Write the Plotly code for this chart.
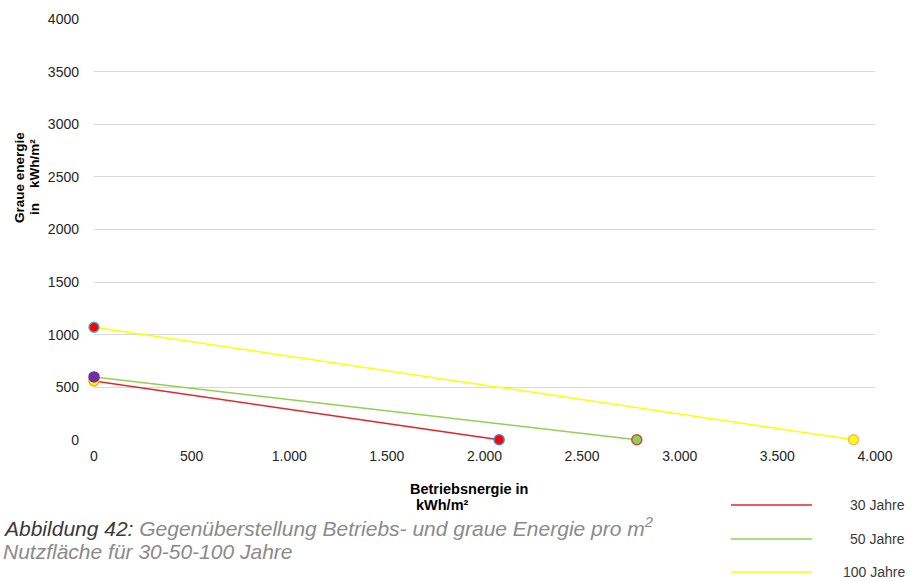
import plotly.graph_objects as go

# Lifetime scenarios
years = ["30 Jahre", "50 Jahre", "100 Jahre"]
# Operating energy (kWh/m²) at which grey energy reaches zero
betriebsenergie = [2075, 2780, 3890]
# Grey energy (kWh/m²) at zero operating energy
graue_energie = [560, 598, 1070]

x_ticks = [0, 500, 1000, 1500, 2000, 2500, 3000, 3500, 4000]
y_ticks = [0, 500, 1000, 1500, 2000, 2500, 3000, 3500, 4000]

line_colors = ["#e3262d", "#92d050", "#ffff00"]
start_fill = ["#ffff00", "#7030a0", "#ff0000"]
start_edge = ["#f5a623", "#7030a0", "#4bacc6"]
end_fill = ["#ff0000", "#92d050", "#ffff00"]
end_edge = ["#4f81bd", "#c0504d", "#f5b08a"]

FONT = "Liberation Sans, Arial, Helvetica, sans-serif"

fig = go.Figure()

for i, name in enumerate(years):
    fig.add_trace(go.Scatter(
        x=[0, betriebsenergie[i]], y=[graue_energie[i], 0],
        mode="lines", name=name,
        line=dict(color=line_colors[i], width=1.5),
        showlegend=False, hoverinfo="skip", cliponaxis=False,
    ))

for i in range(len(years)):
    fig.add_trace(go.Scatter(
        x=[0], y=[graue_energie[i]], mode="markers", showlegend=False,
        cliponaxis=False,
        marker=dict(size=10, color=start_fill[i],
                    line=dict(color=start_edge[i], width=1.5)),
    ))
    fig.add_trace(go.Scatter(
        x=[betriebsenergie[i]], y=[0], mode="markers", showlegend=False,
        cliponaxis=False,
        marker=dict(size=10, color=end_fill[i],
                    line=dict(color=end_edge[i], width=1.5)),
    ))

W, H = 922, 581
L, R, T, B = 94, 47, 19, 141
PW, PH = W - L - R, H - T - B

fig.update_layout(
    width=W, height=H,
    margin=dict(l=L, r=R, t=T, b=B),
    paper_bgcolor="white", plot_bgcolor="white",
    font=dict(family=FONT, size=14, color="#262626"),
    separators=",.",
    showlegend=False,
    xaxis=dict(
        range=[0, 4000], tickvals=x_ticks, tickformat=",d",
        separatethousands=True, showgrid=False, zeroline=False,
        showline=False, ticks="", ticklabelstandoff=6,
        tickfont=dict(size=14, color="#262626"),
    ),
    yaxis=dict(
        range=[-2, 4002], tickvals=y_ticks, tickformat="d",
        showgrid=True, gridcolor="#d9d9d9", gridwidth=1,
        zeroline=False, showline=False, ticks="", ticklabelstandoff=14,
        tickfont=dict(size=14, color="#262626"),
    ),
)

def px(x):
    return (x - L) / PW

def py(y):
    return (H - B - y) / PH

def text_at(text, x, y, size, color="#000000", xanchor="left", angle=0):
    return dict(
        text=text, x=px(x), y=py(y), xref="paper", yref="paper",
        textangle=angle, showarrow=False, align="left",
        font=dict(size=size, color=color, family=FONT),
        xanchor=xanchor, yanchor="middle",
    )

ann = []
# Y axis title (two rotated lines)
ann.append(text_at("<b>Graue energie</b>", 19, 178, 13.5, xanchor="center", angle=-90))
ann.append(text_at("<b>in\u00a0\u00a0\u00a0\u00a0kWh/m²</b>", 34, 177, 13.5, xanchor="center", angle=-90))
# X axis title
ann.append(text_at("<b>Betriebsnergie in</b>", 408, 489, 14.5))
ann.append(text_at("<b>kWh/m²</b>", 414, 505, 14.5))
# Caption
ann.append(text_at(
    "<i>Abbildung 42: <span style='color:#8a8a8a'>Gegenüberstellung Betriebs- und graue Energie pro m<sup>2</sup></span></i>",
    1, 527, 21, color="#3a3a3a"))
ann.append(text_at("<i>Nutzfläche für 30-50-100 Jahre</i>", 1, 551, 21, color="#8a8a8a"))

# Legend
legend_y = [505, 539, 572]
shapes = []
for i, name in enumerate(years):
    shapes.append(dict(
        type="line", xref="paper", yref="paper",
        x0=px(731), x1=px(812), y0=py(legend_y[i]), y1=py(legend_y[i]),
        line=dict(color=line_colors[i], width=1.5),
    ))
    ann.append(text_at(name, 907, legend_y[i], 14, color="#3a3a3a", xanchor="right"))

fig.update_layout(annotations=ann, shapes=shapes)

fig.write_html("out.html")
